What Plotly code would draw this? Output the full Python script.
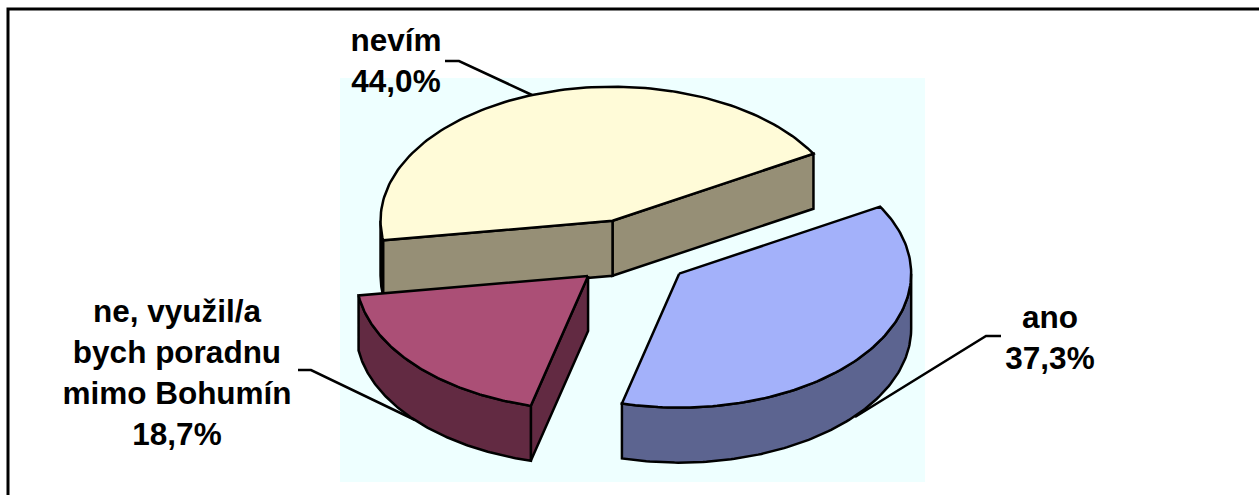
import numpy as np
import plotly.graph_objects as go

categories = ["ano", "ne, využil/a<br>bych poradnu<br>mimo Bohumín", "nevím"]
values = [37.3, 18.7, 44.0]
top_colors = ["#A3B1FA", "#AB4F76", "#FFFBD8"]
side_colors = ["#5C6490", "#622A42", "#968F76"]

W, H = 1259, 495
CX, CY = 632, 253      # pie centre before explosion
A, B = 232, 134        # ellipse semi-axes
DEPTH = 55
EXPLODE = 0.255
START = 30.0           # degrees, counter-clockwise from east; slices go clockwise
OUT = dict(color="black", width=2.5)


def rim(cx, cy, t0, t1):
    t = np.radians(np.linspace(t0, t1, 120))
    return cx + A * np.cos(t), cy - B * np.sin(t)


fig = go.Figure()

# slice geometry derived from the values
slices = []
angle = START
for name, v, tc, sc in zip(categories, values, top_colors, side_colors):
    sweep = v / sum(values) * 360
    t0, t1 = angle, angle - sweep
    mid = np.radians((t0 + t1) / 2)
    cx = CX + EXPLODE * A * np.cos(mid)
    cy = CY - EXPLODE * B * np.sin(mid)
    slices.append(dict(name=name, t0=t0, t1=t1, cx=cx, cy=cy, tc=tc, sc=sc))
    angle = t1


def poly(xs, ys, fill):
    fig.add_trace(go.Scatter(x=np.append(xs, xs[0]), y=np.append(ys, ys[0]), mode="lines",
                             fill="toself", fillcolor=fill, line=OUT, hoverinfo="skip",
                             showlegend=False))


def radial_side(s, t):
    ex, ey = s["cx"] + A * np.cos(np.radians(t)), s["cy"] - B * np.sin(np.radians(t))
    poly(np.array([s["cx"], ex, ex, s["cx"]]),
         np.array([s["cy"], ey, ey + DEPTH, s["cy"] + DEPTH]), s["sc"])


def outer_side(s, t0, t1):
    rx, ry = rim(s["cx"], s["cy"], t0, t1)
    poly(np.concatenate([rx, rx[::-1]]), np.concatenate([ry, ry[::-1] + DEPTH]), s["sc"])


def top(s):
    rx, ry = rim(s["cx"], s["cy"], s["t0"], s["t1"])
    poly(np.concatenate([[s["cx"]], rx]), np.concatenate([[s["cy"]], ry]), s["tc"])


# leader lines sit behind the pie
leaders = [
    ([445, 459, 532], [61, 61, 95]),
    ([298, 311, 415], [370, 370, 420]),
    ([1001, 986, 855], [336, 336, 417]),
]
for lx, ly in leaders:
    fig.add_trace(go.Scatter(x=lx, y=ly, mode="lines", line=OUT, hoverinfo="skip", showlegend=False))

ano, ne, nevim = slices

# back slice: only the part of its rim on the lower half of the ellipse shows
radial_side(nevim, nevim["t1"])
radial_side(nevim, nevim["t0"])
outer_side(nevim, nevim["t0"], -180)
top(nevim)

# right slice
outer_side(ano, 0, ano["t1"])
top(ano)

# left slice
radial_side(ne, ne["t0"])
outer_side(ne, ne["t0"], ne["t1"])
top(ne)

# frame
fig.add_trace(go.Scatter(x=[W, 8, 8], y=[9, 9, H], mode="lines",
                         line=dict(color="black", width=3), hoverinfo="skip", showlegend=False))

# labels
label_xy = [(1050, 341), (177, 376), (396, 64)]
labels = [f"{n}<br>{str(v).replace('.', ',')}%" for n, v in zip(categories, values)]
fig.add_trace(go.Scatter(
    x=[p[0] for p in label_xy], y=[p[1] for p in label_xy], mode="text", text=labels,
    textposition="middle center", cliponaxis=False, hoverinfo="skip", showlegend=False,
    textfont=dict(family="Liberation Sans", size=31.5, color="black", weight="bold")))

fig.update_layout(
    width=W, height=H, margin=dict(l=0, r=0, t=0, b=0),
    paper_bgcolor="white", plot_bgcolor="white",
    xaxis=dict(range=[0, W], visible=False, fixedrange=True),
    yaxis=dict(range=[H, 0], visible=False, fixedrange=True),
    shapes=[dict(type="rect", xref="x", yref="y", x0=340, x1=925, y0=78, y1=482,
                 fillcolor="#EEFFFF", line_width=0, layer="below")],
)

fig.write_html("out.html", config=dict(displayModeBar=False),
               post_script="document.body.style.margin='0';document.body.style.overflow='hidden';")
